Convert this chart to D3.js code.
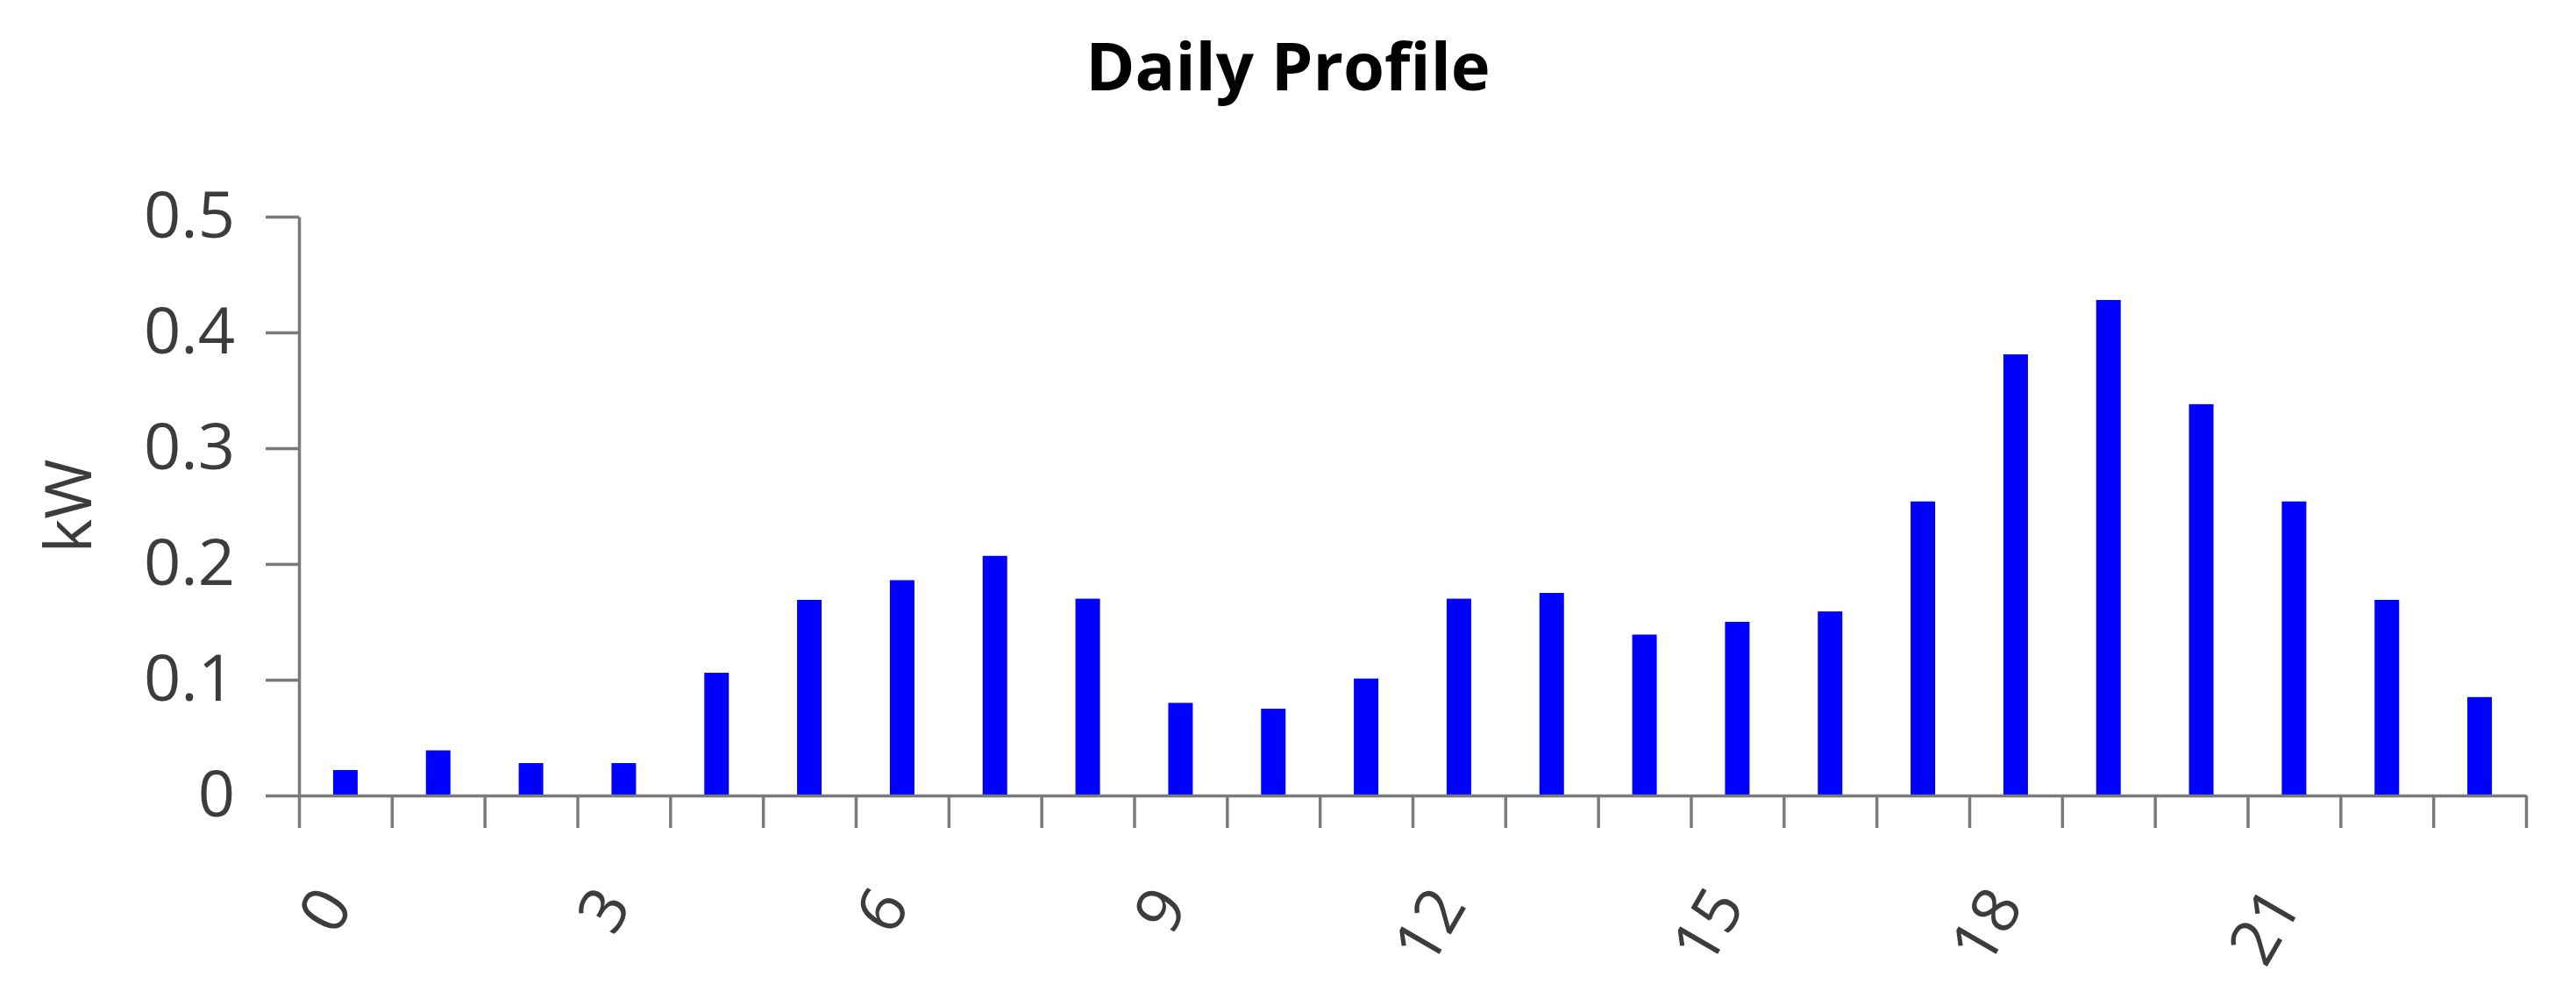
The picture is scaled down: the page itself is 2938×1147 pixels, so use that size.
<!DOCTYPE html>
<html>
<head>
<meta charset="utf-8">
<script src="https://cdn.jsdelivr.net/npm/d3@7"></script>
<style>
  body { margin: 0; background: #fff; }
  svg text { font-family: "Open Sans", "Noto Sans", sans-serif; }
</style>
</head>
<body>
<script>
// hourly values (kW)
var hours = d3.range(0, 24);
var kw = [0.022, 0.039, 0.028, 0.028, 0.106, 0.169, 0.186, 0.207,
          0.170, 0.080, 0.075, 0.101, 0.170, 0.175, 0.139, 0.150,
          0.159, 0.254, 0.381, 0.428, 0.338, 0.254, 0.169, 0.085];
var xLabels = [0, 3, 6, 9, 12, 15, 18, 21];
var yTicks = [0, 0.1, 0.2, 0.3, 0.4, 0.5];

var width = 2938, height = 1147;
var margin = {top: 247, right: 57, bottom: 240, left: 341};
var chartWidth = width - margin.left - margin.right;
var chartHeight = height - margin.top - margin.bottom;

var svg = d3.select("body").append("svg")
    .attr("width", width)
    .attr("height", height);

svg.append("text")
    .attr("x", width / 2)
    .attr("y", 103)
    .attr("text-anchor", "middle")
    .attr("font-size", 76)
    .attr("font-weight", "bold")
    .attr("fill", "#000")
    .text("Daily Profile");

svg.append("text")
    .attr("transform", "translate(104," + (margin.top + chartHeight / 2) + ") rotate(-90)")
    .attr("text-anchor", "middle")
    .attr("font-size", 74)
    .attr("fill", "#3c3c3c")
    .text("kW");

var g = svg.append("g")
    .attr("transform", "translate(" + margin.left + "," + margin.top + ")");

var xScale = d3.scaleBand()
    .domain(hours)
    .range([0, chartWidth]);
var xEdges = d3.scaleLinear()
    .domain([0, 24])
    .range([0, chartWidth]);
var yScale = d3.scaleLinear()
    .domain([0, 0.5])
    .range([chartHeight, 0]);

// bars
g.selectAll("rect")
    .data(hours)
    .enter()
    .append("rect")
    .attr("x", function(d) { return xScale(d) + xScale.bandwidth() / 2 - 14; })
    .attr("y", function(d) { return yScale(kw[d]); })
    .attr("width", 28)
    .attr("height", function(d) { return chartHeight - yScale(kw[d]); })
    .attr("fill", "#0000ff");

// y axis
var yAxis = g.append("g")
    .call(d3.axisLeft(yScale)
        .tickValues(yTicks)
        .tickSize(38)
        .tickSizeOuter(0)
        .tickPadding(35)
        .tickFormat(function(d) { return d === 0 ? "0" : d3.format(".1f")(d); }));

// x axis: ticks on band edges
var xAxis = g.append("g")
    .attr("transform", "translate(0," + chartHeight + ")")
    .call(d3.axisBottom(xEdges)
        .tickValues(d3.range(0, 25))
        .tickSize(37)
        .tickSizeOuter(0)
        .tickFormat(""));

// x labels at band centers, rotated
var xLab = g.append("g")
    .attr("transform", "translate(0," + chartHeight + ")")
    .call(d3.axisBottom(xScale)
        .tickValues(xLabels)
        .tickSize(0)
        .tickSizeOuter(0));
xLab.select(".domain").remove();
xLab.selectAll("text")
    .attr("x", 0)
    .attr("y", 0)
    .attr("dy", null)
    .attr("text-anchor", "end")
    .attr("transform", "translate(10,125) rotate(-60)");

[yAxis, xAxis, xLab].forEach(function(a) {
    a.selectAll(".domain, line")
        .attr("stroke", "#7a7a7a")
        .attr("stroke-width", 3.5);
    a.selectAll("text")
        .attr("font-family", "Open Sans")
        .attr("font-size", 74)
        .attr("fill", "#3c3c3c");
});
</script>
</body>
</html>
